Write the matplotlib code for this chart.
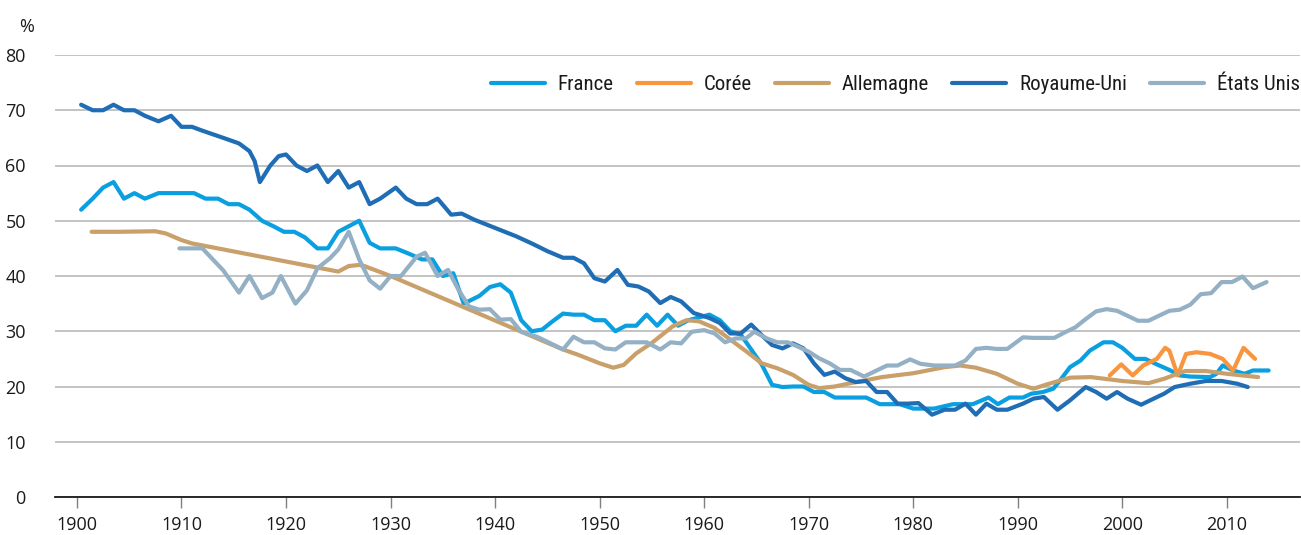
import matplotlib
matplotlib.use("Agg")
import matplotlib.pyplot as plt
from matplotlib import font_manager as fm

# ---------------- data ----------------
france_years = [1900.4, 1901.5, 1902.5, 1903.5, 1904.5, 1905.5, 1906.5, 1907.8, 1909, 1910,
                1911.2, 1912.3, 1913.5, 1914.5, 1915.5, 1916.5, 1917.7, 1918.8, 1919.8, 1920.8,
                1921.8, 1923, 1924, 1925, 1926, 1927, 1928, 1929, 1930.5, 1931.8,
                1933, 1934, 1935, 1936, 1937, 1938.5, 1939.5, 1940.5, 1941.5, 1942.5,
                1943.5, 1944.5, 1945.5, 1946.5, 1947.5, 1948.5, 1949.5, 1950.5, 1951.5, 1952.5,
                1953.5, 1954.5, 1955.5, 1956.5, 1957.5, 1958.5, 1959.5, 1960.5, 1961.5, 1962.5,
                1963.5, 1964.5, 1965.5, 1966.5, 1967.5, 1968.5, 1969.5, 1970.5, 1971.5, 1972.5,
                1974, 1975.5, 1976.8, 1978.7, 1980, 1982, 1983.8, 1985.7, 1987.2, 1988.1,
                1989.2, 1990.5, 1991.3, 1992.4, 1993.4, 1994, 1995, 1996, 1996.9, 1998.2,
                1999.1, 2000, 2001.2, 2002.2, 2003.3, 2004.5, 2005.5, 2006.5, 2008.4, 2009,
                2009.6, 2010.6, 2011.7, 2012.5, 2014]
france_values = [52, 54, 56, 57, 54, 55, 54, 55, 55, 55,
                 55, 54, 54, 53, 53, 52, 50, 49, 48, 48,
                 47, 45, 45, 48, 49, 50, 46, 45, 45, 44,
                 43, 43, 40, 40.5, 35, 36.4, 38, 38.5, 37, 32,
                 30, 30.3, 31.8, 33.2, 33, 33, 32, 32, 30, 31,
                 31, 33, 31, 33, 31, 32, 32.5, 33, 32, 30,
                 29.4, 26.7, 24, 20.3, 19.9, 20, 20, 19, 19, 18,
                 18, 18, 16.8, 16.8, 16, 16, 16.8, 16.8, 18, 16.8,
                 18, 18, 18.7, 19, 19.6, 21, 23.5, 24.7, 26.5, 28,
                 28, 27, 25, 25, 24, 23, 22, 21.8, 21.7, 22.3,
                 23.8, 22.9, 22.3, 22.9, 22.9]

coree_years = [1998.8, 1999.9, 2001, 2002, 2003.3, 2004.1, 2004.5, 2005.3, 2006.1, 2007.1,
               2008.4, 2009.6, 2010.6, 2011.6, 2012.7]
coree_values = [22, 24, 22, 23.8, 25, 27, 26.5, 22, 25.9, 26.2,
                25.9, 25, 22.9, 27, 25]

allemagne_years = [1901.4, 1904, 1907.5, 1908.5, 1910, 1911, 1925, 1926, 1927, 1927.5,
                   1930, 1946.5, 1948, 1950, 1951.3, 1952.3, 1953.5, 1955, 1957, 1958.3,
                   1959.5, 1961, 1962.5, 1964, 1965.5, 1967, 1968.5, 1970, 1971, 1972.5,
                   1974, 1977, 1980, 1983, 1984.5, 1986, 1988, 1990, 1991.5, 1993,
                   1995, 1997, 2000, 2002.5, 2004, 2006, 2008, 2010, 2013]
allemagne_values = [48, 48, 48.1, 47.7, 46.5, 45.9, 40.8, 41.8, 42, 41.8,
                    40, 26.7, 25.7, 24.2, 23.4, 23.9, 26, 27.9, 30.9, 32,
                    31.8, 30.6, 28.5, 26.4, 24.2, 23.3, 22.1, 20.3, 19.7, 20,
                    20.6, 21.7, 22.4, 23.5, 23.8, 23.4, 22.3, 20.5, 19.6, 20.5,
                    21.6, 21.7, 21, 20.6, 21.4, 22.8, 22.8, 22.3, 21.7]

ru_years = [1900.4, 1901.5, 1902.5, 1903.5, 1904.5, 1905.5, 1906.5, 1907.8, 1909, 1910,
            1911, 1912, 1914, 1915.5, 1916.5, 1917, 1917.5, 1918.5, 1919.3, 1920,
            1921, 1922, 1923, 1924, 1925, 1926, 1927, 1928, 1929, 1930.5,
            1931.5, 1932.5, 1933.5, 1934.5, 1935.8, 1936.8, 1938, 1940, 1942, 1943.5,
            1945, 1946.5, 1947.5, 1948.5, 1949.5, 1950.5, 1951.7, 1952.7, 1953.7, 1954.7,
            1955.8, 1956.8, 1957.8, 1959, 1960.5, 1961.5, 1962.5, 1963.5, 1964.5, 1965.5,
            1966.5, 1967.5, 1968.5, 1969.5, 1970.5, 1971.5, 1972.5, 1973.5, 1974.5, 1975.5,
            1976.5, 1977.5, 1978.5, 1979.5, 1980.5, 1981.8, 1983, 1984, 1985, 1986,
            1987, 1988, 1989, 1990.5, 1991.5, 1992.5, 1993.8, 1995, 1996.5, 1997.5,
            1998.5, 1999.5, 2000.5, 2001.8, 2003, 2004, 2005, 2006.5, 2008, 2009.5,
            2011, 2012]
ru_values = [71, 70, 70, 71, 70, 70, 69, 68, 69, 67,
             67, 66.3, 65, 64, 62.6, 60.8, 57, 60, 61.7, 62,
             60, 59, 60, 57, 59, 56, 57, 53, 54, 56,
             54, 53, 53, 54, 51.1, 51.3, 50.2, 48.7, 47.2, 45.9,
             44.5, 43.3, 43.3, 42.3, 39.6, 39, 41.1, 38.4, 38.1, 37.2,
             35.1, 36.2, 35.4, 33.3, 32.4, 31.5, 29.6, 29.6, 31.2, 29.3,
             27.5, 26.9, 27.8, 26.9, 24.2, 22.1, 22.7, 21.5, 20.8, 21,
             19, 19, 16.9, 16.9, 17, 14.9, 15.8, 15.8, 16.9, 14.9,
             16.9, 15.8, 15.8, 16.9, 17.8, 18.1, 15.8, 17.5, 19.9, 19,
             17.8, 19, 17.8, 16.7, 17.8, 18.7, 19.9, 20.5, 21, 21,
             20.5, 19.9]

us_years = [1909.8, 1911, 1912, 1913, 1914, 1915.5, 1916.5, 1917.7, 1918.7, 1919.5,
            1920.9, 1922, 1923, 1924.2, 1925, 1926, 1927, 1928, 1929, 1930,
            1931, 1932.5, 1933.3, 1934.5, 1935.5, 1936.5, 1937.5, 1938.5, 1939.5, 1940.5,
            1941.5, 1942.5, 1944, 1945, 1946.5, 1947.5, 1948.5, 1949.5, 1950.5, 1951.5,
            1952.5, 1953.5, 1954.5, 1955.8, 1956.8, 1957.8, 1958.8, 1960, 1961, 1962,
            1963, 1964, 1964.8, 1966, 1967, 1968, 1969, 1970, 1971, 1972,
            1973, 1974, 1975.3, 1976.5, 1977.5, 1978.5, 1979.7, 1980.7, 1982, 1983,
            1984, 1985, 1986, 1987, 1988, 1989, 1990.5, 1991.5, 1992.5, 1993.5,
            1994.5, 1995.5, 1996.5, 1997.5, 1998.5, 1999.5, 2000.5, 2001.5, 2002.5, 2003.5,
            2004.5, 2005.5, 2006.5, 2007.5, 2008.5, 2009.5, 2010.5, 2011.5, 2012.5, 2013.8]
us_values = [45, 45, 45, 43, 41, 37, 40, 36, 37, 40,
             35, 37.4, 41.4, 43.2, 44.8, 48, 43, 39.2, 37.7, 40,
             40, 43.5, 44.2, 40, 41.1, 37.5, 34.5, 33.9, 34, 32.1,
             32.2, 29.9, 29, 28.1, 26.7, 29, 28, 28, 26.9, 26.7,
             28, 28, 28, 26.7, 28, 27.8, 29.9, 30.2, 29.6, 28,
             28.7, 28.7, 29.9, 28.7, 28, 28, 27.2, 26.3, 25.1, 24.2,
             23, 23, 21.8, 22.9, 23.8, 23.8, 24.9, 24.1, 23.8, 23.8,
             23.8, 24.7, 26.8, 27, 26.8, 26.8, 28.9, 28.8, 28.8, 28.8,
             29.8, 30.7, 32.2, 33.6, 34, 33.7, 32.8, 31.9, 31.9, 32.8,
             33.7, 33.9, 34.8, 36.7, 36.9, 38.9, 38.9, 39.9, 37.8, 38.9]

series_labels = ["France", "Corée", "Allemagne", "Royaume-Uni", "États Unis"]
series_colors = ["#0a9fe0", "#f7963f", "#c9a06a", "#1f6db5", "#94b0c5"]

x_ticks = list(range(1900, 2011, 10))
y_ticks = list(range(0, 81, 10))

# ---------------- fonts ----------------
def have(name):
    try:
        fm.findfont(fm.FontProperties(family=name), fallback_to_default=False)
        return True
    except Exception:
        return False

tick_font = "Open Sans" if have("Open Sans") else "DejaVu Sans"
leg_font = None
for cand in ["Liberation Sans Narrow", "Roboto Condensed", "DejaVu Sans Condensed"]:
    if have(cand):
        leg_font = cand
        break
if leg_font is None:
    leg_font = tick_font

plt.rcParams["font.family"] = [tick_font, "DejaVu Sans"]

# ---------------- figure ----------------
fig = plt.figure(figsize=(13.01, 5.35), dpi=100)
ax = fig.add_axes([55 / 1301, 1 - 497 / 535, (1300 - 55) / 1301, (497 - 55) / 535])

all_years = [france_years, coree_years, allemagne_years, ru_years, us_years]
all_vals = [france_values, coree_values, allemagne_values, ru_values, us_values]
for yrs, vals, lab, col in zip(all_years, all_vals, series_labels, series_colors):
    ax.plot(yrs, vals, color=col, lw=3.0, label=lab, solid_joinstyle="round",
            solid_capstyle="round", zorder=3)

ax.set_xlim(1897.9, 2017.0)
ax.set_ylim(0, 80)
ax.set_xticks(x_ticks)
ax.set_yticks(y_ticks)
ax.yaxis.grid(True, color="#b3b3b3", lw=1.1)
ax.set_axisbelow(True)
for s in ["top", "right", "left"]:
    ax.spines[s].set_visible(False)
ax.spines["bottom"].set_color("#1a1a1a")
ax.spines["bottom"].set_linewidth(1.3)
ax.spines["bottom"].set_zorder(4)

ax.tick_params(axis="x", direction="out", length=8, width=1.0, color="#808080",
               labelsize=13, pad=6, labelcolor="#1a1a1a")
ax.tick_params(axis="y", length=0, labelsize=13, pad=21, labelcolor="#1a1a1a")

ax.text(-21 / 1245, 1 + 28 / 442, "%", transform=ax.transAxes, ha="right", va="center",
        fontsize=13, color="#1a1a1a")

leg = ax.legend(ncol=5, loc="center right", bbox_to_anchor=(1.0, (497 - 85) / 442),
                frameon=False, borderaxespad=0, borderpad=0,
                handlelength=2.6, handletextpad=0.62, columnspacing=1.1,
                prop={"family": leg_font, "size": 15})
for t in leg.get_texts():
    t.set_color("#1a1a1a")
for h in leg.get_lines():
    h.set_linewidth(3.0)

fig.savefig("out.png", dpi=100)
